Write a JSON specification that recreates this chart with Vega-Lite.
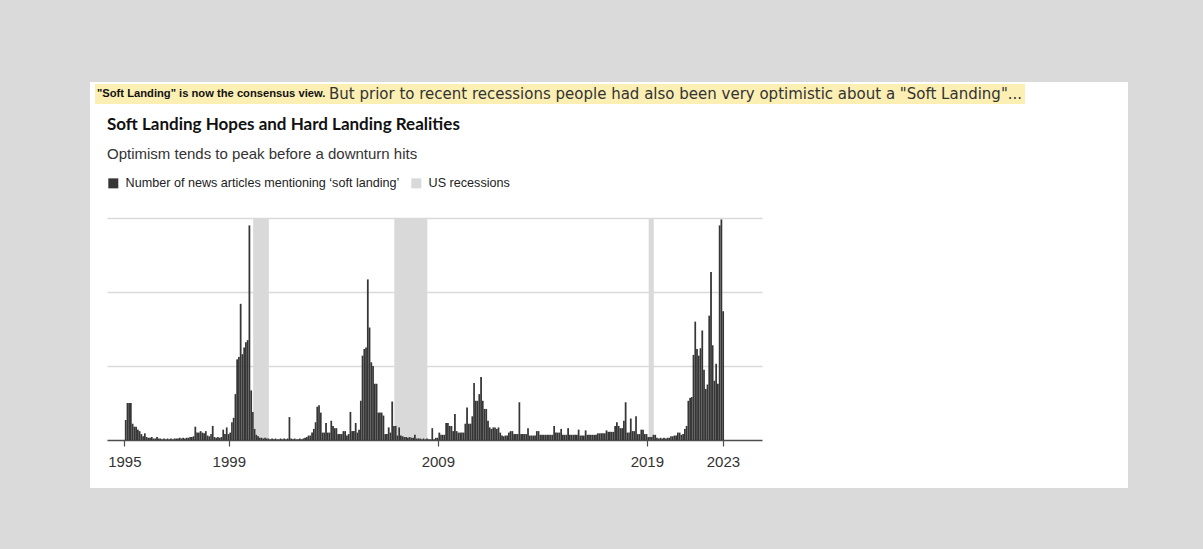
{
  "$schema": "https://vega.github.io/schema/vega-lite/v6.json",
  "width": 1038,
  "height": 406,
  "autosize": {"type": "none"},
  "padding": {"left": 90, "top": 82, "right": 75, "bottom": 61},
  "background": "#d9dad9",
  "view": {"fill": "#ffffff", "stroke": null},
  "config": {"font": "Liberation Sans"},
  "title": {
    "text": "Soft Landing Hopes and Hard Landing Realities",
    "subtitle": "Optimism tends to peak before a downturn hits",
    "anchor": "start",
    "frame": "group",
    "orient": "top",
    "offset": -81,
    "dx": 17,
    "font": "Lato",
    "fontSize": 17,
    "fontWeight": "bold",
    "color": "#111111",
    "subtitleFont": "Liberation Sans",
    "subtitleFontSize": 15,
    "subtitleColor": "#333333",
    "subtitlePadding": 13
  },
  "datasets": {
    "recessions": [
      {"start": "2001-03-01", "end": "2001-11-30"},
      {"start": "2007-12-01", "end": "2009-06-30"},
      {"start": "2020-02-01", "end": "2020-04-30"}
    ],
    "articles": [
      {"m":"1995-01","n":27},{"m":"1995-02","n":50},{"m":"1995-03","n":50},{"m":"1995-04","n":50},{"m":"1995-05","n":22},{"m":"1995-06","n":18},{"m":"1995-07","n":18},{"m":"1995-08","n":14},{"m":"1995-09","n":12},{"m":"1995-10","n":8},{"m":"1995-11","n":5},{"m":"1995-12","n":9},
      {"m":"1996-01","n":4},{"m":"1996-02","n":3},{"m":"1996-03","n":3},{"m":"1996-04","n":4},{"m":"1996-05","n":2},{"m":"1996-06","n":2},{"m":"1996-07","n":4},{"m":"1996-08","n":2},{"m":"1996-09","n":2},{"m":"1996-10","n":1},{"m":"1996-11","n":2},{"m":"1996-12","n":1},
      {"m":"1997-01","n":2},{"m":"1997-02","n":1},{"m":"1997-03","n":2},{"m":"1997-04","n":1},{"m":"1997-05","n":2},{"m":"1997-06","n":2},{"m":"1997-07","n":2},{"m":"1997-08","n":3},{"m":"1997-09","n":2},{"m":"1997-10","n":3},{"m":"1997-11","n":2},{"m":"1997-12","n":3},
      {"m":"1998-01","n":3},{"m":"1998-02","n":4},{"m":"1998-03","n":4},{"m":"1998-04","n":5},{"m":"1998-05","n":18},{"m":"1998-06","n":10},{"m":"1998-07","n":10},{"m":"1998-08","n":12},{"m":"1998-09","n":10},{"m":"1998-10","n":9},{"m":"1998-11","n":12},{"m":"1998-12","n":6},
      {"m":"1999-01","n":5},{"m":"1999-02","n":8},{"m":"1999-03","n":19},{"m":"1999-04","n":4},{"m":"1999-05","n":3},{"m":"1999-06","n":4},{"m":"1999-07","n":3},{"m":"1999-08","n":4},{"m":"1999-09","n":14},{"m":"1999-10","n":8},{"m":"1999-11","n":17},{"m":"1999-12","n":8},
      {"m":"2000-01","n":10},{"m":"2000-02","n":24},{"m":"2000-03","n":30},{"m":"2000-04","n":62},{"m":"2000-05","n":109},{"m":"2000-06","n":112},{"m":"2000-07","n":184},{"m":"2000-08","n":116},{"m":"2000-09","n":125},{"m":"2000-10","n":132},{"m":"2000-11","n":135},{"m":"2000-12","n":290},
      {"m":"2001-01","n":67},{"m":"2001-02","n":38},{"m":"2001-03","n":15},{"m":"2001-04","n":7},{"m":"2001-05","n":5},{"m":"2001-06","n":3},{"m":"2001-07","n":3},{"m":"2001-08","n":2},{"m":"2001-09","n":3},{"m":"2001-10","n":2},{"m":"2001-11","n":2},{"m":"2001-12","n":1},
      {"m":"2002-01","n":2},{"m":"2002-02","n":1},{"m":"2002-03","n":2},{"m":"2002-04","n":1},{"m":"2002-05","n":1},{"m":"2002-06","n":2},{"m":"2002-07","n":1},{"m":"2002-08","n":2},{"m":"2002-09","n":1},{"m":"2002-10","n":2},{"m":"2002-11","n":31},{"m":"2002-12","n":2},
      {"m":"2003-01","n":1},{"m":"2003-02","n":2},{"m":"2003-03","n":1},{"m":"2003-04","n":1},{"m":"2003-05","n":2},{"m":"2003-06","n":1},{"m":"2003-07","n":2},{"m":"2003-08","n":3},{"m":"2003-09","n":4},{"m":"2003-10","n":6},{"m":"2003-11","n":6},{"m":"2003-12","n":10},
      {"m":"2004-01","n":15},{"m":"2004-02","n":24},{"m":"2004-03","n":45},{"m":"2004-04","n":47},{"m":"2004-05","n":37},{"m":"2004-06","n":10},{"m":"2004-07","n":10},{"m":"2004-08","n":23},{"m":"2004-09","n":10},{"m":"2004-10","n":10},{"m":"2004-11","n":26},{"m":"2004-12","n":19},
      {"m":"2005-01","n":16},{"m":"2005-02","n":16},{"m":"2005-03","n":8},{"m":"2005-04","n":8},{"m":"2005-05","n":8},{"m":"2005-06","n":12},{"m":"2005-07","n":12},{"m":"2005-08","n":6},{"m":"2005-09","n":8},{"m":"2005-10","n":38},{"m":"2005-11","n":12},{"m":"2005-12","n":12},
      {"m":"2006-01","n":23},{"m":"2006-02","n":10},{"m":"2006-03","n":14},{"m":"2006-04","n":53},{"m":"2006-05","n":114},{"m":"2006-06","n":123},{"m":"2006-07","n":125},{"m":"2006-08","n":217},{"m":"2006-09","n":152},{"m":"2006-10","n":105},{"m":"2006-11","n":100},{"m":"2006-12","n":76},
      {"m":"2007-01","n":76},{"m":"2007-02","n":37},{"m":"2007-03","n":37},{"m":"2007-04","n":37},{"m":"2007-05","n":33},{"m":"2007-06","n":8},{"m":"2007-07","n":8},{"m":"2007-08","n":17},{"m":"2007-09","n":10},{"m":"2007-10","n":52},{"m":"2007-11","n":19},{"m":"2007-12","n":19},
      {"m":"2008-01","n":6},{"m":"2008-02","n":17},{"m":"2008-03","n":6},{"m":"2008-04","n":5},{"m":"2008-05","n":4},{"m":"2008-06","n":4},{"m":"2008-07","n":3},{"m":"2008-08","n":4},{"m":"2008-09","n":3},{"m":"2008-10","n":3},{"m":"2008-11","n":7},{"m":"2008-12","n":2},
      {"m":"2009-01","n":2},{"m":"2009-02","n":2},{"m":"2009-03","n":1},{"m":"2009-04","n":2},{"m":"2009-05","n":1},{"m":"2009-06","n":2},{"m":"2009-07","n":1},{"m":"2009-08","n":1},{"m":"2009-09","n":16},{"m":"2009-10","n":1},{"m":"2009-11","n":3},{"m":"2009-12","n":3},
      {"m":"2010-01","n":10},{"m":"2010-02","n":7},{"m":"2010-03","n":7},{"m":"2010-04","n":7},{"m":"2010-05","n":23},{"m":"2010-06","n":23},{"m":"2010-07","n":19},{"m":"2010-08","n":19},{"m":"2010-09","n":12},{"m":"2010-10","n":35},{"m":"2010-11","n":12},{"m":"2010-12","n":10},
      {"m":"2011-01","n":10},{"m":"2011-02","n":10},{"m":"2011-03","n":10},{"m":"2011-04","n":22},{"m":"2011-05","n":44},{"m":"2011-06","n":22},{"m":"2011-07","n":22},{"m":"2011-08","n":32},{"m":"2011-09","n":77},{"m":"2011-10","n":53},{"m":"2011-11","n":53},{"m":"2011-12","n":62},
      {"m":"2012-01","n":85},{"m":"2012-02","n":53},{"m":"2012-03","n":42},{"m":"2012-04","n":42},{"m":"2012-05","n":26},{"m":"2012-06","n":17},{"m":"2012-07","n":15},{"m":"2012-08","n":17},{"m":"2012-09","n":17},{"m":"2012-10","n":15},{"m":"2012-11","n":17},{"m":"2012-12","n":10},
      {"m":"2013-01","n":6},{"m":"2013-02","n":5},{"m":"2013-03","n":6},{"m":"2013-04","n":6},{"m":"2013-05","n":10},{"m":"2013-06","n":12},{"m":"2013-07","n":12},{"m":"2013-08","n":8},{"m":"2013-09","n":8},{"m":"2013-10","n":8},{"m":"2013-11","n":51},{"m":"2013-12","n":8},
      {"m":"2014-01","n":8},{"m":"2014-02","n":8},{"m":"2014-03","n":8},{"m":"2014-04","n":16},{"m":"2014-05","n":6},{"m":"2014-06","n":6},{"m":"2014-07","n":6},{"m":"2014-08","n":6},{"m":"2014-09","n":12},{"m":"2014-10","n":12},{"m":"2014-11","n":7},{"m":"2014-12","n":7},
      {"m":"2015-01","n":7},{"m":"2015-02","n":7},{"m":"2015-03","n":7},{"m":"2015-04","n":7},{"m":"2015-05","n":7},{"m":"2015-06","n":7},{"m":"2015-07","n":19},{"m":"2015-08","n":10},{"m":"2015-09","n":10},{"m":"2015-10","n":10},{"m":"2015-11","n":15},{"m":"2015-12","n":7},
      {"m":"2016-01","n":7},{"m":"2016-02","n":7},{"m":"2016-03","n":16},{"m":"2016-04","n":7},{"m":"2016-05","n":7},{"m":"2016-06","n":7},{"m":"2016-07","n":7},{"m":"2016-08","n":7},{"m":"2016-09","n":14},{"m":"2016-10","n":6},{"m":"2016-11","n":6},{"m":"2016-12","n":6},
      {"m":"2017-01","n":13},{"m":"2017-02","n":7},{"m":"2017-03","n":7},{"m":"2017-04","n":7},{"m":"2017-05","n":7},{"m":"2017-06","n":7},{"m":"2017-07","n":7},{"m":"2017-08","n":9},{"m":"2017-09","n":9},{"m":"2017-10","n":9},{"m":"2017-11","n":9},{"m":"2017-12","n":9},
      {"m":"2018-01","n":13},{"m":"2018-02","n":11},{"m":"2018-03","n":11},{"m":"2018-04","n":11},{"m":"2018-05","n":11},{"m":"2018-06","n":19},{"m":"2018-07","n":24},{"m":"2018-08","n":19},{"m":"2018-09","n":16},{"m":"2018-10","n":16},{"m":"2018-11","n":26},{"m":"2018-12","n":51},
      {"m":"2019-01","n":10},{"m":"2019-02","n":10},{"m":"2019-03","n":29},{"m":"2019-04","n":12},{"m":"2019-05","n":12},{"m":"2019-06","n":32},{"m":"2019-07","n":8},{"m":"2019-08","n":8},{"m":"2019-09","n":14},{"m":"2019-10","n":14},{"m":"2019-11","n":8},{"m":"2019-12","n":8},
      {"m":"2020-01","n":4},{"m":"2020-02","n":4},{"m":"2020-03","n":4},{"m":"2020-04","n":7},{"m":"2020-05","n":7},{"m":"2020-06","n":3},{"m":"2020-07","n":2},{"m":"2020-08","n":3},{"m":"2020-09","n":2},{"m":"2020-10","n":3},{"m":"2020-11","n":2},{"m":"2020-12","n":3},
      {"m":"2021-01","n":3},{"m":"2021-02","n":5},{"m":"2021-03","n":5},{"m":"2021-04","n":6},{"m":"2021-05","n":6},{"m":"2021-06","n":10},{"m":"2021-07","n":10},{"m":"2021-08","n":7},{"m":"2021-09","n":8},{"m":"2021-10","n":15},{"m":"2021-11","n":19},{"m":"2021-12","n":53},
      {"m":"2022-01","n":57},{"m":"2022-02","n":58},{"m":"2022-03","n":115},{"m":"2022-04","n":160},{"m":"2022-05","n":123},{"m":"2022-06","n":114},{"m":"2022-07","n":124},{"m":"2022-08","n":148},{"m":"2022-09","n":95},{"m":"2022-10","n":69},{"m":"2022-11","n":75},{"m":"2022-12","n":168},
      {"m":"2023-01","n":227},{"m":"2023-02","n":128},{"m":"2023-03","n":80},{"m":"2023-04","n":103},{"m":"2023-05","n":76},{"m":"2023-06","n":290},{"m":"2023-07","n":298},{"m":"2023-08","n":174}
    ]
  },
  "layer": [
    {
      "data": {"name": "recessions"},
      "mark": {"type": "rect"},
      "encoding": {
        "x": {
          "field": "start",
          "type": "temporal",
          "scale": {
            "type": "utc",
            "domain": [{"year": 1994, "month": 3, "date": 4, "utc": true}, {"year": 2025, "month": 7, "date": 4, "utc": true}],
            "range": [17, 672]
          },
          "axis": {
            "orient": "bottom",
            "offset": -48,
            "title": null,
            "values": [
              {"year": 1995, "month": 1, "date": 1, "utc": true},
              {"year": 1999, "month": 12, "date": 31, "utc": true},
              {"year": 2009, "month": 12, "date": 31, "utc": true},
              {"year": 2019, "month": 12, "date": 31, "utc": true},
              {"year": 2023, "month": 8, "date": 21, "utc": true}
            ],
            "format": "%Y",
            "grid": false,
            "domain": true,
            "domainColor": "#4d4d4d",
            "domainWidth": 1.5,
            "ticks": true,
            "tickColor": "#4d4d4d",
            "tickSize": 6,
            "tickWidth": 1.2,
            "labelFont": "Liberation Sans",
            "labelFontSize": 15,
            "labelColor": "#333333",
            "labelPadding": 8,
            "labelFlush": false,
            "labelOverlap": false
          }
        },
        "x2": {"field": "end"},
        "y": {
          "datum": 0,
          "type": "quantitative",
          "scale": {"domain": [0, 300], "range": [358, 136], "nice": false, "zero": true},
          "axis": {
            "values": [100, 200, 300],
            "grid": true,
            "gridColor": "#dadada",
            "gridWidth": 1.3,
            "domain": false,
            "ticks": false,
            "labels": false,
            "title": null
          }
        },
        "y2": {"datum": 300},
        "color": {
          "datum": "US recessions",
          "type": "nominal",
          "scale": {
            "domain": ["Number of news articles mentioning ‘soft landing’", "US recessions"],
            "range": ["#363636", "#d9d9d9"]
          },
          "legend": {
            "title": null,
            "orient": "none",
            "legendX": 17,
            "legendY": 95,
            "direction": "horizontal",
            "symbolType": "square",
            "symbolSize": 100,
            "symbolStrokeWidth": 0,
            "labelFont": "Liberation Sans",
            "labelFontSize": 12.6,
            "labelColor": "#222222",
            "labelOffset": 6,
            "labelLimit": 600,
            "columnPadding": 10
          }
        }
      }
    },
    {
      "data": {"name": "articles"},
      "mark": {"type": "bar", "binSpacing": 0},
      "encoding": {
        "x": {"field": "m", "timeUnit": "utcyearmonth", "type": "temporal"},
        "y": {"field": "n", "type": "quantitative"},
        "color": {"datum": "Number of news articles mentioning ‘soft landing’", "type": "nominal"},
        "opacity": {
          "datum": "But prior to recent recessions people had also been very optimistic about a \"Soft Landing\"...",
          "type": "nominal",
          "scale": {"type": "ordinal", "range": [1]},
          "legend": {
            "title": "\"Soft Landing\" is now the consensus view.",
            "titleOrient": "left",
            "titleFont": "Liberation Sans",
            "titleFontWeight": "bold",
            "titleFontSize": 11.2,
            "titleColor": "#111111",
            "titlePadding": -12,
            "titleLimit": 800,
            "labelFont": "DejaVu Sans",
            "labelFontSize": 15,
            "labelColor": "#333333",
            "labelLimit": 1200,
            "labelOffset": 0,
            "symbolSize": 0,
            "symbolOpacity": 0,
            "symbolStrokeWidth": 0,
            "orient": "none",
            "legendX": 5,
            "legendY": 2,
            "direction": "horizontal",
            "fillColor": "#fcefb4",
            "padding": 2
          }
        }
      }
    }
  ]
}
